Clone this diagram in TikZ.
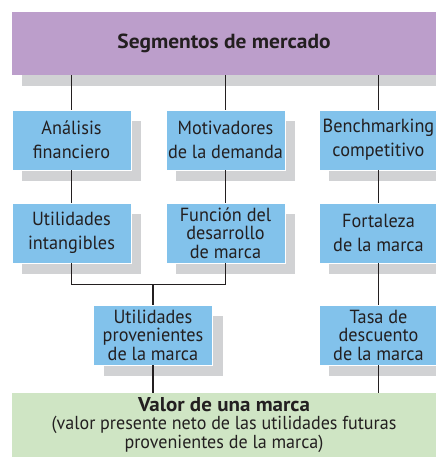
\documentclass[tikz,border=0pt]{standalone}
\usepackage{fontspec}
\setmainfont{PT Sans}[FakeStretch=0.96]
\newfontfamily\headfont{PT Sans}[FakeStretch=1.05]
\usepackage{tikz}
\usetikzlibrary{shadows,calc,positioning}
\definecolor{segpurple}{HTML}{BC9ECB}
\definecolor{factblue}{HTML}{82C2EB}
\definecolor{valgreen}{HTML}{CFE5C4}
\definecolor{shadegray}{HTML}{D1D2D4}
\definecolor{inkgray}{HTML}{231F20}
\tikzset{
  link/.style={draw=inkgray,line width=1.3pt},
  shade/.style={general shadow={fill=shadegray,shadow xshift=10pt,shadow yshift=-11pt}},
  fact/.style={rectangle,fill=factblue,draw=white,line width=0.8pt,shade,
    minimum width=119pt,minimum height=60pt,inner sep=0pt,align=center,
    text=inkgray,font=\fontsize{19}{24}\selectfont},
  factiii/.style={fact,font=\fontsize{19}{18.5}\selectfont},
  band/.style={rectangle,minimum width=424pt,inner sep=0pt,align=center,text=inkgray},
}
\begin{document}
\begin{tikzpicture}[x=1pt,y=-1pt]
\useasboundingbox (0,0) rectangle (436,459);

% cabecera
\node[band,fill=segpurple,shade,minimum height=63pt,
  font=\headfont\fontsize{20.4}{24}\bfseries] (seg) at (224,43.5) {Segmentos de mercado};

% primera fila
\node[fact] (fin) at (71.5,140) {Análisis\\financiero};
\node[fact] (dem) at (225.5,140) {Motivadores\\de la demanda};
\node[fact] (bench) at (378.5,140) {Benchmarking\\competitivo};

% segunda fila
\node[fact] (intang) at (71.5,233) {Utilidades\\intangibles};
\node[factiii] (func) at (225.5,233) {Función del\\desarrollo\\de marca};
\node[fact] (fort) at (378.5,233) {Fortaleza\\de la marca};

% tercera fila
\node[factiii] (prov) at (153,335) {Utilidades\\provenientes\\de la marca};
\node[factiii] (tasa) at (378.5,335) {Tasa de\\descuento\\de la marca};

% valor final
\node[band,fill=valgreen,minimum height=64pt,
  font=\fontsize{18.8}{18.5}\selectfont] (val) at (224,425)
  {{\headfont\fontsize{20}{18.5}\bfseries Valor de una marca}\\(valor presente neto de las utilidades futuras\\provenientes de la marca)};

\foreach \n in {fin,dem,bench}
  \draw[link] (seg.south -| \n) -- (\n);
\draw[link] (fin) -- (intang);
\draw[link] (dem) -- (func);
\draw[link] (bench) -- (fort);
\draw[link] (fort) -- (tasa);
\coordinate (join) at ($(prov.north)+(0,-20)$);
\draw[link] (intang) |- (join) -| (func);
\draw[link] (join) -- (prov);
\draw[link] (prov) -- (prov |- val.north);
\draw[link] (tasa) -- (tasa |- val.north);
\end{tikzpicture}
\end{document}
